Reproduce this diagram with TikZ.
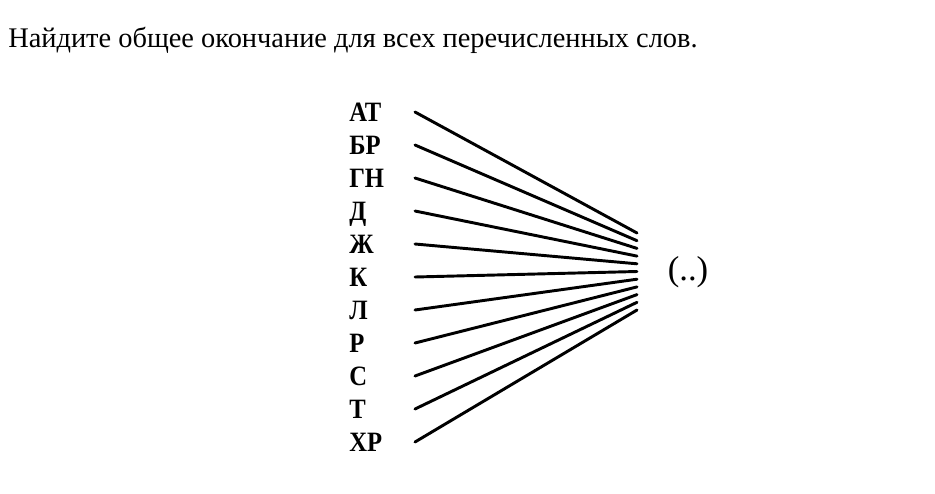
\documentclass[tikz,border=0pt]{standalone}
\usepackage{fontspec}
\setmainfont{Liberation Serif}
\newfontfamily\wordfont[FakeStretch=0.88]{Liberation Serif}
\begin{document}
\begin{tikzpicture}[x=0.75pt,y=-0.75pt,
  word/.style={anchor=base west,inner sep=0pt,font=\wordfont\fontsize{21}{22}\selectfont\bfseries},
  conn/.style={line width=2.2pt,line cap=round}]
\useasboundingbox (0,0) rectangle (935,493);
\node[anchor=base west,inner sep=0pt,font=\fontsize{21.3}{24}\selectfont] (title) at (8,47) {Найдите общее окончание для всех перечисленных слов.};
\foreach \w [count=\i from 0] in {АТ,БР,ГН,Д,Ж,К,Л,Р,С,Т,ХР}{
  \node[word] (w\i) at (349,{121+33*\i}) {\w};
  \coordinate (s\i) at (415,{112+33*\i});
  \coordinate (e\i) at (637,{233+7.7*\i});
  \draw[conn] (s\i) -- (e\i);
}
\node[inner sep=0pt,font=\fontsize{26}{28}\selectfont] (end) at (688,272) {(..)};
\end{tikzpicture}
\end{document}
